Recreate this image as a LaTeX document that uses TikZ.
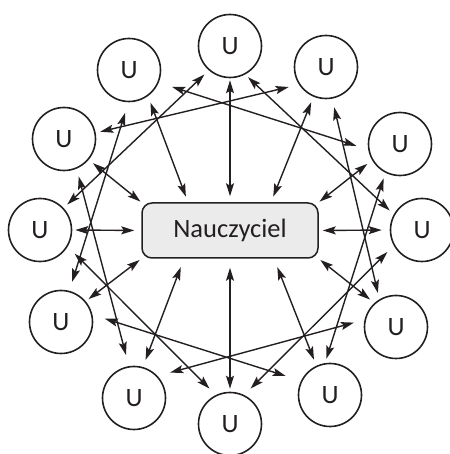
\documentclass[tikz,border=0pt]{standalone}
\usepackage{fontspec}
\setmainfont{Carlito}
\usetikzlibrary{arrows.meta,calc}
\definecolor{ink}{HTML}{231F20}
\definecolor{boxfill}{HTML}{EBEBEB}
\begin{document}
\begin{tikzpicture}[x=1pt,y=1pt,
  pupil/.style={circle, draw=ink, line width=1.6pt, minimum size=63pt, inner sep=0pt,
    font=\fontsize{26.5}{30}\selectfont, text=ink},
  teacher/.style={rectangle, rounded corners=10pt, draw=ink, line width=1.5pt, fill=boxfill,
    minimum width=176pt, minimum height=55pt, font=\fontsize{26.5}{30}\selectfont, text=ink},
  uarrow/.style={draw=ink, line width=1.4pt,
    {Stealth[length=13pt,width=8pt,inset=2.5pt]}-{Stealth[length=13pt,width=8pt,inset=2.5pt]}}]
\useasboundingbox (0,0) rectangle (449,454);
% teacher
\node[teacher] (box) at (230,223.5) {Nauczyciel};
% pupils
\node[pupil] (n0)  at (422,224) {U};
\node[pupil] (n1)  at (400,310) {U};
\node[pupil] (n2)  at (326,387) {U};
\node[pupil] (n3)  at (230,408) {U};
\node[pupil] (n4)  at (129,384) {U};
\node[pupil] (n5)  at (64,315)  {U};
\node[pupil] (n6)  at (40,224)  {U};
\node[pupil] (n7)  at (61,132)  {U};
\node[pupil] (n8)  at (134,56)  {U};
\node[pupil] (n9)  at (230,30)  {U};
\node[pupil] (n10) at (330,59)  {U};
\node[pupil] (n11) at (396,127) {U};
% points on the teacher box
\coordinate (b3)  at (box.north);
\coordinate (b4)  at ($(box.north)+(-42,0)$);
\coordinate (b2)  at ($(box.north)+(41,0)$);
\coordinate (b5)  at (box.north west);
\coordinate (b1)  at (box.north east);
\coordinate (b6)  at (box.west);
\coordinate (b0)  at (box.east);
\coordinate (b7)  at (box.south west);
\coordinate (b11) at (box.south east);
\coordinate (b8)  at ($(box.south)+(-46,0)$);
\coordinate (b9)  at (box.south);
\coordinate (b10) at ($(box.south)+(44,0)$);
% radial arrows
\draw[uarrow, shorten <=2pt,   shorten >=6pt] (n3.-90)   -- (b3);
\draw[uarrow, shorten <=7pt,   shorten >=6pt] (n4.-54)   -- (b4);
\draw[uarrow, shorten <=6pt,   shorten >=6pt] (n2.-113)  -- (b2);
\draw[uarrow, shorten <=5.5pt, shorten >=1pt] (n5.-40)   -- (b5);
\draw[uarrow, shorten <=6pt,   shorten >=1pt] (n1.-150)  -- (b1);
\draw[uarrow, shorten <=3pt,   shorten >=7pt] (n6.0)     -- (b6);
\draw[uarrow, shorten <=8pt,   shorten >=4pt] (n0.180)   -- (b0);
\draw[uarrow, shorten <=3.5pt, shorten >=2pt] (n7.40)    -- (b7);
\draw[uarrow, shorten <=5.5pt, shorten >=2pt] (n11.132)  -- (b11);
\draw[uarrow, shorten <=7.5pt, shorten >=9pt] (n8.74)    -- (b8);
\draw[uarrow, shorten <=3pt,   shorten >=9pt] (n9.90)    -- (b9);
\draw[uarrow, shorten <=6.5pt, shorten >=9pt] (n10.115)  -- (b10);
% chords (pupil to pupil, three steps apart)
\draw[uarrow, shorten <=6pt,   shorten >=5pt]   (n3.229)  -- (n6.43);
\draw[uarrow, shorten <=4pt,   shorten >=5.5pt] (n3.-62)  -- (n0.151);
\draw[uarrow, shorten <=10pt,  shorten >=9pt]   (n6.-31)  -- (n9.116);
\draw[uarrow, shorten <=9pt,   shorten >=9pt]   (n9.64)   -- (n0.-151);
\draw[uarrow, shorten <=14pt,  shorten >=12.5pt] (n4.-23) -- (n1.-170);
\draw[uarrow, shorten <=11pt,  shorten >=9.5pt] (n4.-91)  -- (n7.75);
\draw[uarrow, shorten <=13pt,  shorten >=16pt]  (n7.13)   -- (n10.154);
\draw[uarrow, shorten <=4.5pt, shorten >=6pt]   (n10.99)  -- (n1.-117);
\draw[uarrow, shorten <=4.7pt, shorten >=10.5pt] (n5.11)  -- (n2.-147);
\draw[uarrow, shorten <=8pt,   shorten >=11.5pt] (n5.-67) -- (n8.99);
\draw[uarrow, shorten <=13pt,  shorten >=11pt]  (n8.43)   -- (n11.167);
\draw[uarrow, shorten <=6.5pt, shorten >=8.8pt] (n11.121) -- (n2.-79);
\end{tikzpicture}
\end{document}
